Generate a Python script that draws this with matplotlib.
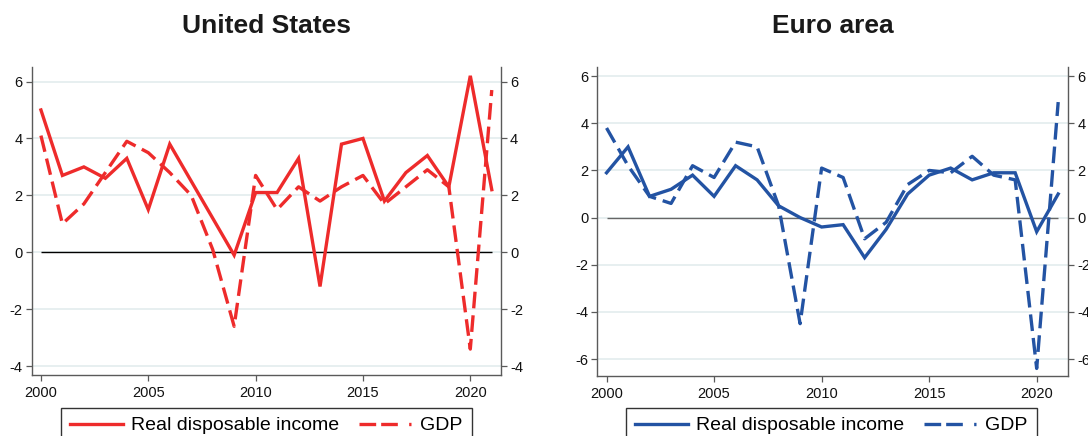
import matplotlib
matplotlib.use("Agg")
import matplotlib.pyplot as plt
from matplotlib.lines import Line2D

plt.rcParams['font.family'] = ['Liberation Sans', 'DejaVu Sans']
plt.rcParams['axes.unicode_minus'] = False

years = list(range(2000, 2022))
us_rdi = [5.0, 2.7, 3.0, 2.6, 3.3, 1.5, 3.8, 2.5, 1.2, -0.1, 2.1, 2.1, 3.3, -1.2, 3.8, 4.0, 1.8, 2.8, 3.4, 2.3, 6.2, 2.2]
us_gdp = [4.1, 1.0, 1.7, 2.8, 3.9, 3.5, 2.8, 2.0, 0.1, -2.6, 2.7, 1.5, 2.3, 1.8, 2.3, 2.7, 1.7, 2.3, 2.9, 2.3, -3.4, 5.7]
ea_rdi = [1.9, 3.0, 0.9, 1.2, 1.8, 0.9, 2.2, 1.6, 0.5, 0.0, -0.4, -0.3, -1.7, -0.5, 1.0, 1.8, 2.1, 1.6, 1.9, 1.9, -0.6, 1.0]
ea_gdp = [3.8, 2.2, 0.9, 0.6, 2.2, 1.7, 3.2, 3.0, 0.5, -4.5, 2.1, 1.7, -0.9, -0.2, 1.4, 2.0, 1.9, 2.6, 1.8, 1.6, -6.4, 4.9]

us_yticks = [-4, -2, 0, 2, 4, 6]
ea_yticks = [-6, -4, -2, 0, 2, 4, 6]
xticks = [2000, 2005, 2010, 2015, 2020]
titles = ["United States", "Euro area"]
labels = ["Real disposable income", "GDP"]

W, H = 1088, 436
fig = plt.figure(figsize=(W / 100, H / 100), dpi=100)

def px_axes(l, t, r, b):
    return fig.add_axes([l / W, 1 - b / H, (r - l) / W, (b - t) / H])

ax1 = px_axes(31.7, 66.7, 501, 375)
ax2 = px_axes(597.3, 66.7, 1068.3, 376)

red = '#ee2b2b'
blue = '#2353a3'
grid_c = '#e3ecee'
spine_c = '#5a5a5a'

panels = [
    (ax1, us_rdi, us_gdp, red, us_yticks, (-4.31, 6.52), (1999.57, 2021.43), 'black'),
    (ax2, ea_rdi, ea_gdp, blue, ea_yticks, (-6.72, 6.40), (1999.57, 2021.47), '#666666'),
]

for ax, rdi, gdp, col, yt, ylim, xlim, zc in panels:
    for y in yt:
        ax.axhline(y, color=grid_c, lw=1.2, zorder=0)
    ax.hlines(0, years[0], years[-1], color=zc, lw=1.0, zorder=1)
    ax.plot(years, rdi, color=col, lw=2.4, solid_joinstyle='miter', zorder=3)
    l, = ax.plot(years, gdp, color=col, lw=2.4, zorder=2)
    l.set_dashes([5.0, 2.1])
    l.set_dash_capstyle('butt')
    ax.set_xlim(*xlim)
    ax.set_ylim(*ylim)
    ax.set_xticks(xticks)
    ax.set_yticks(yt)
    ax.spines['top'].set_visible(False)
    for s in ['left', 'right', 'bottom']:
        ax.spines[s].set_color(spine_c)
        ax.spines[s].set_linewidth(1.0)
    ax.tick_params(axis='both', direction='out', length=4, width=0.9, color=spine_c,
                   labelsize=10.5, labelcolor='#111111')
    ax.tick_params(axis='y', left=True, right=True, labelleft=True, labelright=True, pad=2.5)
    ax.tick_params(axis='x', pad=4)
    ax.grid(False)

fig.text(266 / W, 1 - 26 / H, titles[0], ha='center', va='center', fontsize=19, fontweight='bold', color='#1a1a1a')
fig.text(832.8 / W, 1 - 26 / H, titles[1], ha='center', va='center', fontsize=19, fontweight='bold', color='#1a1a1a')

for col, lx in [(red, 60.7), (blue, 625.7)]:
    h1 = Line2D([], [], color=col, lw=2.4)
    h2 = Line2D([], [], color=col, lw=2.4)
    h2.set_dashes([5.0, 1.5, 5.0, 3.4, 1.0, 30])
    leg = fig.legend([h1, h2], labels, loc='upper left',
                     bbox_to_anchor=(lx / W, 1 - 407.5 / H), bbox_transform=fig.transFigure,
                     ncol=2, fontsize=14, frameon=True, fancybox=False, borderaxespad=0,
                     handlelength=2.7, handletextpad=0.45, columnspacing=1.0, borderpad=0.48)
    fr = leg.get_frame()
    fr.set_edgecolor('#333333')
    fr.set_linewidth(1.0)
    fr.set_facecolor('white')
    fr.set_alpha(1)

fig.savefig('out.png', dpi=100)
